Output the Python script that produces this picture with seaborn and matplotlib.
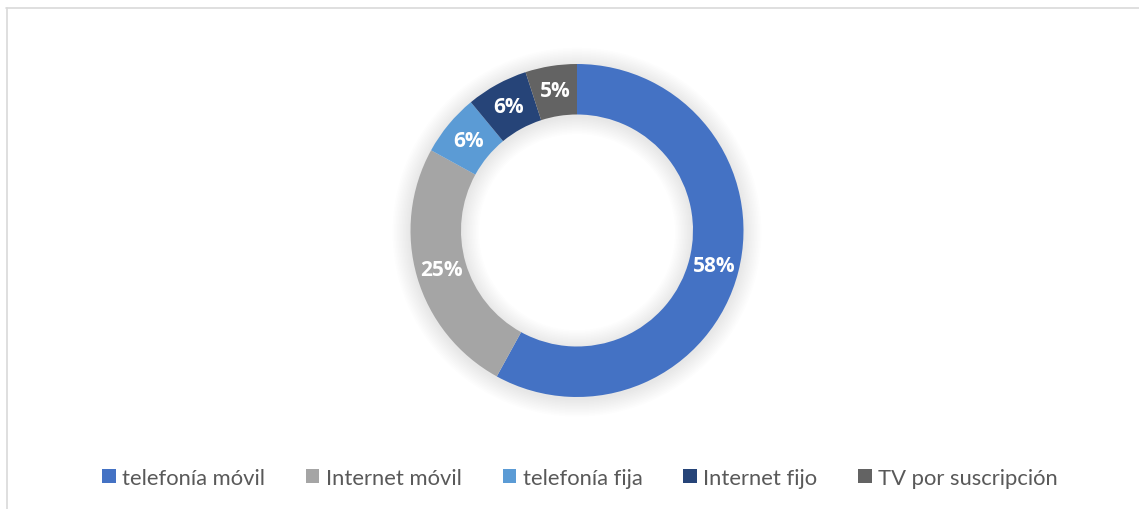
import matplotlib
matplotlib.use("Agg")
import matplotlib.pyplot as plt
import seaborn as sns
from matplotlib.patches import Patch, Wedge
from matplotlib.lines import Line2D

categories = ["telefonía móvil", "Internet móvil", "telefonía fija", "Internet fijo", "TV por suscripción"]
values = [58, 25, 6, 6, 5]
labels = ["58%", "25%", "6%", "6%", "5%"]
colors = ["#4472C4", "#A5A5A5", "#5B9BD5", "#264478", "#636363"]

sns.set_theme(style="white")
plt.rcParams['font.family'] = ['Lato', 'DejaVu Sans']
palette = sns.color_palette(colors)

W, H = 1139, 510
fig = plt.figure(figsize=(W / 100, H / 100), dpi=100)
fig.patch.set_facecolor("white")

cx, cy, R = 577, 231.5, 166.5
lim = 1.5
side = 2 * lim * R
ax = fig.add_axes([(cx - side / 2) / W, (H - cy - side / 2) / H, side / W, side / H])
ax.set_xlim(-lim, lim)
ax.set_ylim(-lim, lim)
ax.set_aspect("equal")
ax.axis("off")

inner = 116 / 166.5
width = 1 - inner

# soft shadow glow
n = 12
for k in range(n):
    d = 0.009 * (k + 1)
    ax.add_patch(Wedge((0, -0.01), 1 + d, 0, 360, width=width + 2 * d,
                       facecolor="#000000", edgecolor="none", alpha=0.009, zorder=0))

wedges, texts = ax.pie(values, colors=palette, startangle=90, counterclock=False,
                       radius=1, wedgeprops=dict(width=width, edgecolor="none", zorder=2),
                       labels=labels, labeldistance=(1 - width / 2),
                       textprops=dict(color="white", fontsize=15, fontweight="bold",
                                      ha="center", va="center", family=["Open Sans", "DejaVu Sans"]))
for t in texts:
    t.set_zorder(3)
ax.set_xlim(-lim, lim)
ax.set_ylim(-lim, lim)

handles = [Patch(facecolor=c, edgecolor="none") for c in palette]
leg = fig.legend(handles, categories, loc="center", bbox_to_anchor=(580 / W, 1 - 479 / H),
                 ncol=5, frameon=False, fontsize=15.8, handlelength=0.62, handleheight=0.62,
                 handletextpad=0.3, columnspacing=1.85, labelcolor="#595959")

# chart border (top and left visible)
fig.add_artist(Line2D([6 / W, 1.0], [1 - 8.5 / H, 1 - 8.5 / H], color="#D9D9D9", lw=1.2,
                      transform=fig.transFigure))
fig.add_artist(Line2D([6.5 / W, 6.5 / W], [0, 1 - 8.5 / H], color="#D9D9D9", lw=1.2,
                      transform=fig.transFigure))

fig.savefig("out.png", dpi=100, facecolor="white")
